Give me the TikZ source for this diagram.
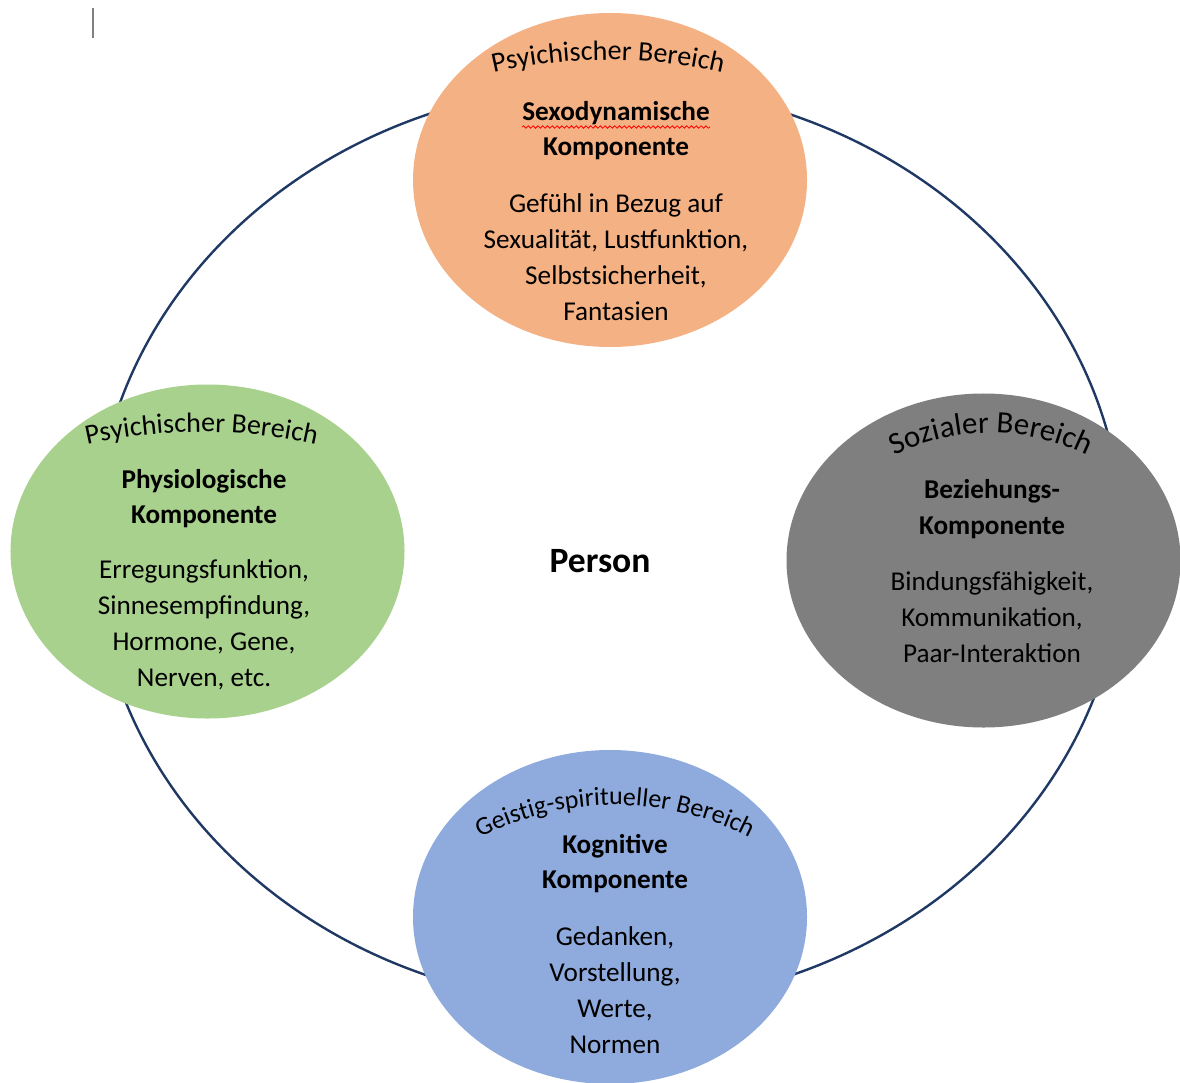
\documentclass[tikz,border=0pt]{standalone}
\usepackage{fontspec}
\setmainfont{Carlito}
\usetikzlibrary{shapes.geometric,decorations.text,decorations.pathmorphing}
\definecolor{orng}{HTML}{F4B183}
\definecolor{grn}{HTML}{A9D18E}
\definecolor{gry}{HTML}{7F7F7F}
\definecolor{blu}{HTML}{8FAADC}
\definecolor{ringc}{HTML}{1F3864}
\begin{document}
\begin{tikzpicture}[x=0.5bp,y=0.5bp,
  blob/.style={ellipse, draw=none, inner sep=0pt, minimum width=197bp, minimum height=167bp},
  ttl/.style={font=\fontsize{13.6bp}{17.8bp}\selectfont\bfseries, align=center, inner sep=0pt},
  bdy/.style={font=\fontsize{13.6bp}{18bp}\selectfont, align=center, inner sep=0pt}]
\useasboundingbox (0,0) rectangle (1180,1082);
% cursor mark
\draw[gray, line width=0.6bp] (93,1074) -- (93,1044);
% ring
\node[ellipse, draw=ringc, line width=1.2bp, inner sep=0pt,
      minimum width=514bp, minimum height=460bp] (ring) at (609,537) {};
% blobs
\node[blob, fill=orng] (sexo) at (610,902) {};
\node[blob, fill=grn]  (phys) at (207.5,530.5) {};
\node[blob, fill=gry]  (bez)  at (983.5,521.5) {};
\node[blob, fill=blu]  (kog)  at (610,165) {};
% arc texts
{\fontsize{14bp}{14bp}\selectfont
\path[decorate, decoration={text along path, text align=center, text={Psyichischer Bereich}}]
  ([shift={(107:254bp)}]608,514) arc[start angle=107, end angle=73, radius=254bp];
\path[decorate, decoration={text along path, text align=center, text={Psyichischer Bereich}}]
  ([shift={(107:260bp)}]201.5,130) arc[start angle=107, end angle=73, radius=260bp];
}
{\fontsize{15.5bp}{15.5bp}\selectfont
\path[decorate, decoration={text along path, text align=center, text={Sozialer Bereich}}]
  ([shift={(126:110bp)}]991,429) arc[start angle=126, end angle=54, radius=110bp];
}
{\fontsize{13bp}{13bp}\selectfont
\path[decorate, decoration={text along path, text align=center, text={Geistig-spiritueller Bereich}}]
  ([shift={(130:146.5bp)}]615,-16) arc[start angle=130, end angle=50, radius=146.5bp];
}
% titles and bodies
\node[ttl] (sexoT) at (616,951.5) {Sexodynamische\\Komponente};
\node[bdy] (sexoB) at (616,825) {Gefühl in Bezug auf\\Sexualität, Lustfunktion,\\Selbstsicherheit,\\Fantasien};
\node[ttl] (physT) at (204,583.5) {Physiologische\\Komponente};
\node[bdy] (physB) at (204,457.5) {Erregungsfunktion,\\Sinnesempfindung,\\Hormone, Gene,\\Nerven, etc.};
\node[ttl] (bezT) at (992,573) {Beziehungs-\\Komponente};
\node[bdy] (bezB) at (992,464.5) {Bindungsfähigkeit,\\Kommunikation,\\Paar-Interaktion};
\node[ttl] (kogT) at (615,218.5) {Kognitive\\Komponente};
\node[bdy] (kogB) at (615,92) {Gedanken,\\Vorstellung,\\Werte,\\Normen};
\node[font=\fontsize{17.8bp}{20bp}\selectfont\bfseries, inner sep=0pt] (person) at (600,521) {Person};
% spell-check squiggle
\draw[red, line width=0.4bp, decorate, decoration={snake, amplitude=0.6bp, segment length=2.4bp}]
  (522,955) -- (710,955);
\end{tikzpicture}
\end{document}
